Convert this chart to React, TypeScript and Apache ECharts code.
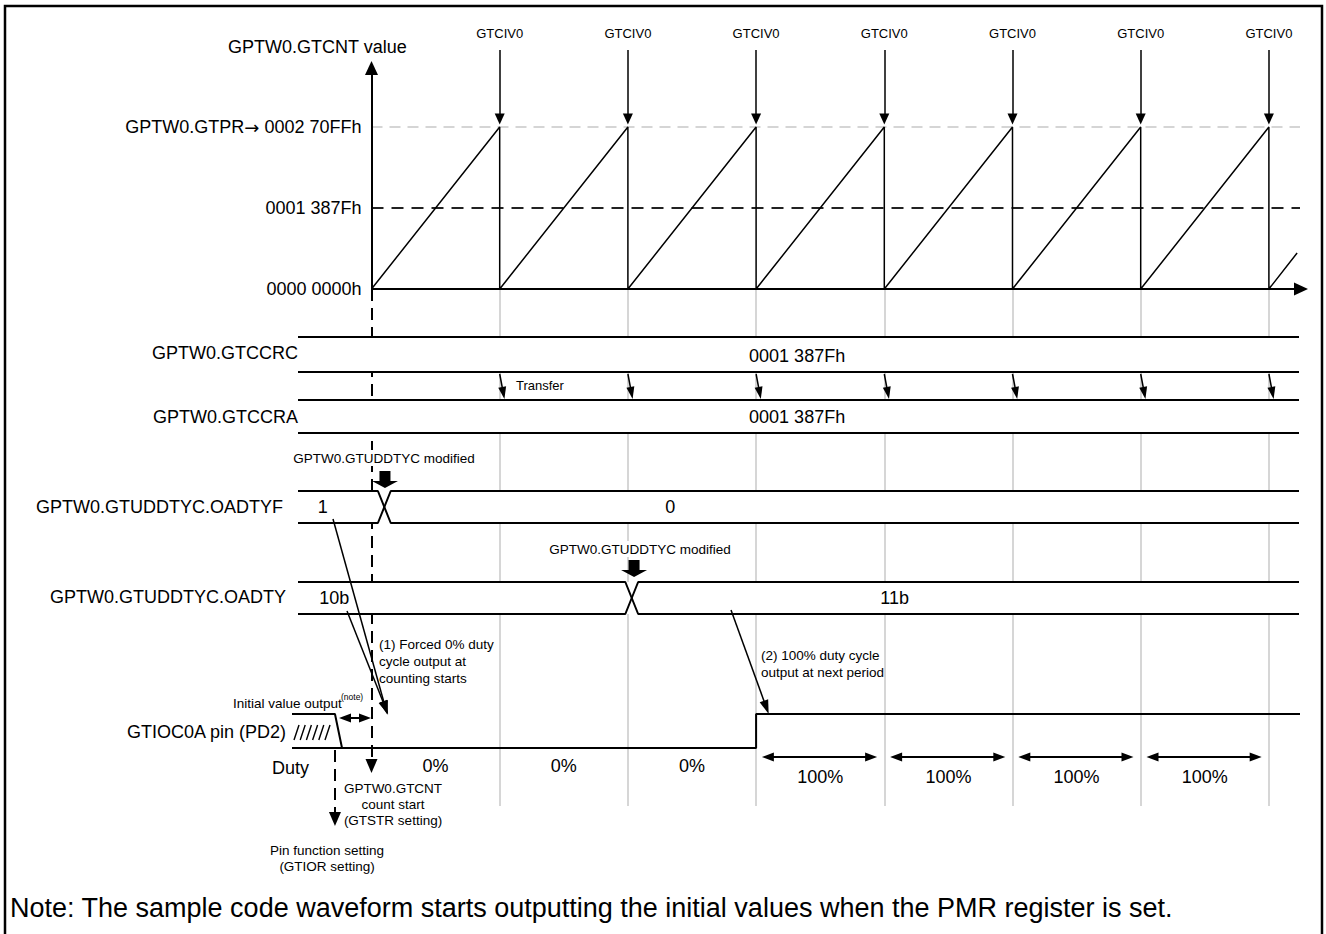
import React, { useEffect, useRef } from "react";
import * as echarts from "echarts";

const W = 1326;
const H = 934;
const FONT = "'Liberation Sans', Arial, Helvetica, sans-serif";
const BLACK = "#000000";
const GRAY = "#c8c8c8";

// ---------------- data ----------------
const GTPR = 0x270ff; // counter period
const CMP = 0x1387f; // compare value
const PERIOD_STARTS = [0, 1, 2, 3, 4, 5, 6];
const OVERFLOW_TIMES = [1, 2, 3, 4, 5, 6, 7];
const CNT_TAIL_T = 7.22;
const CNT_TAIL_V = 0x8ae3;
const Y_TICK_VALUES = [0, CMP, GTPR];
const Y_TICK_LABELS = ["0000 0000h", "0001 387Fh", "GPTW0.GTPR{a|\u2192} 0002 70FFh"];
const EVENT_LABEL = "GTCIV0";

const CCRC_VALUES = ["0001 387Fh"];
const CCRA_VALUES = ["0001 387Fh"];
const CCR_VALUE_T = [3.32];
const OADTYF_VALUES = ["1", "0"];
const OADTYF_VALUE_T = [-0.38, 2.33];
const OADTYF_CHANGE_T = [0.05];
const OADTY_VALUES = ["10b", "11b"];
const OADTY_VALUE_T = [-0.29, 4.08];
const OADTY_CHANGE_T = [1.98];
const MODIFY_T = [0.105, 2.048];
const DUTY_LABELS = ["0%", "0%", "0%", "100%", "100%", "100%", "100%"];
const PIN_HIGH_FROM = 3;
const PIN_INIT_END_T = -0.285;
const TRANSFER_T = [1, 2, 3, 4, 5, 6, 7];

// ---------------- layout ----------------
const T0_PX = 371.5;
const PERIOD_PX = 128.2;
const X_MIN = -T0_PX / PERIOD_PX;
const X_MAX = (W - T0_PX) / PERIOD_PX;
const tAt = (px: number) => (px - T0_PX) / PERIOD_PX;
const BASE_PX = 289;
const TOP_PX = 127;
const Y0_MAX = (GTPR * BASE_PX) / (BASE_PX - TOP_PX);
const cAt = (px: number) => (GTPR * (BASE_PX - px)) / (BASE_PX - TOP_PX);

const ROWS: Record<string, number[]> = {
  ccrc: [337, 372],
  ccra: [400, 433],
  oadtyf: [491, 523],
  oadty: [582, 614],
  pin: [714, 748],
};
const BUS_START = tAt(298);
const BUS_END = tAt(1299);
const X_W = 0.1;
const TRACE_END = tAt(1300);
const PIN_START = tAt(292);
const mid = (r: number[]) => (r[0] + r[1]) / 2;

function busPolylines(row: number[], changes: number[]) {
  const [hi, lo] = row;
  const a: number[][] = [[BUS_START, hi]];
  const b: number[][] = [[BUS_START, lo]];
  let ya = hi;
  let yb = lo;
  for (const c of changes) {
    a.push([c, ya], [c + X_W, yb]);
    b.push([c, yb], [c + X_W, ya]);
    const tmp = ya;
    ya = yb;
    yb = tmp;
  }
  a.push([BUS_END, ya]);
  b.push([BUS_END, yb]);
  return [a, b];
}

const poly = (data: number[][], xi: number, yi: number, width = 2, z = 3) => ({
  type: "line",
  xAxisIndex: xi,
  yAxisIndex: yi,
  data,
  symbol: "none",
  showSymbol: false,
  clip: false,
  silent: true,
  lineStyle: { color: BLACK, width },
  z,
});

const carrier = (xi: number, yi: number, extra: any) => ({
  type: "line",
  xAxisIndex: xi,
  yAxisIndex: yi,
  data: [],
  silent: true,
  ...extra,
});

const seg = (a: number[], b: number[], lineStyle?: any) => [
  lineStyle ? { coord: a, lineStyle } : { coord: a },
  { coord: b },
];

const T = (
  text: string,
  x: number,
  y: number,
  size: number,
  align = "left",
  vAlign = "middle",
  extra: any = {}
) => ({
  type: "text",
  x,
  y,
  silent: true,
  z: 100,
  style: { text, fontSize: size, fontFamily: FONT, fill: BLACK, align, verticalAlign: vAlign, ...extra },
});

function buildOption() {
  // counter sawtooth
  const cnt: number[][] = [];
  PERIOD_STARTS.forEach((p) => cnt.push([p, 0], [p + 1, GTPR]));
  cnt.push([OVERFLOW_TIMES[OVERFLOW_TIMES.length - 1], 0], [CNT_TAIL_T, CNT_TAIL_V]);

  const busRows = [
    { row: ROWS.ccrc, changes: [] as number[] },
    { row: ROWS.ccra, changes: [] as number[] },
    { row: ROWS.oadtyf, changes: OADTYF_CHANGE_T },
    { row: ROWS.oadty, changes: OADTY_CHANGE_T },
  ];
  const busSeries: any[] = [];
  busRows.forEach((b) => busPolylines(b.row, b.changes).forEach((pl) => busSeries.push(poly(pl, 1, 1, 2, 4))));

  const [pinHi, pinLo] = ROWS.pin;
  const pinA = [
    [PIN_START, pinHi],
    [PIN_INIT_END_T, pinHi],
    [PIN_INIT_END_T + 0.055, pinLo],
  ];
  const pinB = [
    [PIN_START, pinLo],
    [PIN_HIGH_FROM, pinLo],
    [PIN_HIGH_FROM, pinHi],
    [TRACE_END, pinHi],
  ];

  const valueLabels: any[] = [];
  CCRC_VALUES.forEach((v, i) => valueLabels.push({ name: v, value: [CCR_VALUE_T[i], mid(ROWS.ccrc) + 1] }));
  CCRA_VALUES.forEach((v, i) => valueLabels.push({ name: v, value: [CCR_VALUE_T[i], mid(ROWS.ccra)] }));
  OADTYF_VALUES.forEach((v, i) => valueLabels.push({ name: v, value: [OADTYF_VALUE_T[i], mid(ROWS.oadtyf)] }));
  OADTY_VALUES.forEach((v, i) => valueLabels.push({ name: v, value: [OADTY_VALUE_T[i], mid(ROWS.oadty)] }));
  DUTY_LABELS.forEach((v, k) =>
    valueLabels.push({ name: v, value: [PERIOD_STARTS[k] + 0.5, v === "100%" ? 777 : 766] })
  );

  const dutyArrows = DUTY_LABELS.map((v, k) => ({ v, k }))
    .filter((d) => d.v === "100%")
    .map((d) => seg([PERIOD_STARTS[d.k] + 0.092, 757], [PERIOD_STARTS[d.k] + 0.897, 757]));

  const hatch = [0, 1, 2, 3, 4, 5].map((i) => ({
    type: "line",
    silent: true,
    shape: { x1: 294 + 6.2 * i, y1: 740, x2: 299 + 6.2 * i, y2: 725 },
    style: { stroke: BLACK, lineWidth: 1.4 },
  }));

  const axisX = { type: "value", min: X_MIN, max: X_MAX, show: false, splitLine: { show: false } };
  const whiteBg = { backgroundColor: "#ffffff", padding: [1, 0] };

  return {
    animation: false,
    backgroundColor: "#ffffff",
    grid: [
      { left: 0, right: 0, top: 0, height: BASE_PX },
      { left: 0, right: 0, top: 0, bottom: 0 },
    ],
    xAxis: [
      { ...axisX, gridIndex: 0, axisLine: { onZero: false } },
      { ...axisX, gridIndex: 1, axisLine: { onZero: false } },
    ],
    yAxis: [
      {
        type: "value",
        gridIndex: 0,
        min: 0,
        max: Y0_MAX,
        interval: 80000,
        position: "left",
        offset: -T0_PX,
        axisLine: { show: false, onZero: false },
        axisTick: { show: false },
        splitLine: { show: false },
        axisLabel: {
          customValues: Y_TICK_VALUES,
          margin: 10,
          color: BLACK,
          fontSize: 18,
          fontFamily: FONT,
          rich: { a: { fontFamily: "'DejaVu Sans', sans-serif", fontSize: 18, color: BLACK } },
          formatter: (v: number) => {
            const i = Y_TICK_VALUES.findIndex((t) => Math.abs(t - v) < 10);
            return i >= 0 ? Y_TICK_LABELS[i] : "";
          },
        },
      },
      { type: "value", gridIndex: 1, min: 0, max: H, inverse: true, show: false, splitLine: { show: false } },
    ],
    graphic: [
      {
        type: "rect",
        silent: true,
        shape: { x: 5, y: 6, width: 1317, height: 1000 },
        style: { fill: "none", stroke: BLACK, lineWidth: 2.5 },
      },
      T("GPTW0.GTCNT value", 228, 47, 18),
      T("GPTW0.GTCCRC", 298, 353, 18, "right"),
      T("GPTW0.GTCCRA", 298, 417, 18, "right"),
      T("GPTW0.GTUDDTYC.OADTYF", 283, 507, 18, "right"),
      T("GPTW0.GTUDDTYC.OADTY", 286, 597, 18, "right"),
      T("GTIOC0A pin (PD2)", 286, 732, 18, "right"),
      T("Duty", 272, 768, 18),
      T("Transfer", 516, 385, 13),
      T("GPTW0.GTUDDTYC modified", 384, 458, 13.5, "center", "middle", whiteBg),
      T("GPTW0.GTUDDTYC modified", 640, 549, 13.5, "center", "middle", whiteBg),
      T("(1) Forced 0% duty\ncycle output at\ncounting starts", 379, 636, 13.5, "left", "top", { lineHeight: 17 }),
      T("(2) 100% duty cycle\noutput at next period", 761, 647, 13.5, "left", "top", { lineHeight: 17 }),
      T("Initial value output", 233, 703, 13.5),
      T("(note)", 341, 697, 8.5),
      T("GPTW0.GTCNT\ncount start\n(GTSTR setting)", 393, 780, 13.5, "center", "top", { lineHeight: 16 }),
      T("Pin function setting\n(GTIOR setting)", 327, 843, 13.5, "center", "top", { lineHeight: 15.5 }),
      T(
        "Note: The sample code waveform starts outputting the initial values when the PMR register is set.",
        10,
        908,
        27
      ),
      ...hatch,
    ],
    series: [
      // ---- counter grid ----
      poly(cnt, 0, 0, 1.5, 4),
      carrier(0, 0, {
        markLine: {
          silent: true,
          z: 2,
          symbol: ["none", "none"],
          label: { show: false },
          data: [
            seg([0, GTPR], [TRACE_END, GTPR], { color: GRAY, type: [11, 7], width: 1.5 }),
            seg([0, CMP], [TRACE_END, CMP], { color: "#222222", type: [12, 8], width: 2 }),
          ],
        },
      }),
      carrier(0, 0, {
        markLine: {
          silent: true,
          z: 5,
          symbol: ["none", "triangle"],
          symbolSize: [13, 14],
          label: { show: false },
          lineStyle: { color: BLACK, width: 2, type: "solid" },
          data: [seg([0, 0], [0, cAt(68)]), seg([0, 0], [tAt(1301), 0])],
        },
      }),
      carrier(0, 0, {
        markLine: {
          silent: true,
          z: 5,
          symbol: ["none", "triangle"],
          symbolSize: [10, 11],
          lineStyle: { color: BLACK, width: 1.5, type: "solid" },
          label: {
            show: true,
            position: "start",
            formatter: EVENT_LABEL,
            fontSize: 13,
            fontFamily: FONT,
            color: BLACK,
            distance: 10,
          },
          data: OVERFLOW_TIMES.map((k) => seg([k, cAt(50)], [k, cAt(119)])),
        },
      }),
      // ---- signal grid ----
      carrier(1, 1, {
        markLine: {
          silent: true,
          z: 1,
          symbol: ["none", "none"],
          label: { show: false },
          lineStyle: { color: GRAY, width: 1.5, type: "solid" },
          data: OVERFLOW_TIMES.map((k) => seg([k, BASE_PX], [k, 806])),
        },
      }),
      carrier(1, 1, {
        markLine: {
          silent: true,
          z: 1,
          symbol: ["none", "triangle"],
          symbolSize: [12, 14],
          label: { show: false },
          lineStyle: { color: BLACK, width: 2, type: [12, 7] },
          data: [seg([0, BASE_PX], [0, 766]), seg([PIN_INIT_END_T, 750], [PIN_INIT_END_T, 819])],
        },
      }),
      carrier(1, 1, {
        markArea: {
          silent: true,
          z: 2,
          itemStyle: { color: "#ffffff", borderWidth: 0 },
          label: { show: false },
          data: busRows.map((b) => [{ coord: [BUS_START, b.row[0]] }, { coord: [BUS_END, b.row[1]] }]),
        },
      }),
      ...busSeries,
      poly(pinA, 1, 1, 2, 4),
      poly(pinB, 1, 1, 2, 4),
      carrier(1, 1, {
        markLine: {
          silent: true,
          z: 5,
          symbol: ["none", "triangle"],
          symbolSize: [8, 12],
          label: { show: false },
          lineStyle: { color: BLACK, width: 1.5, type: "solid" },
          data: TRANSFER_T.map((k) => seg([k, 374], [k + 0.028, 393])),
        },
      }),
      carrier(1, 1, {
        markLine: {
          silent: true,
          z: 5,
          symbol: ["none", "triangle"],
          symbolSize: [9, 14],
          label: { show: false },
          lineStyle: { color: BLACK, width: 1.5, type: "solid" },
          data: [
            seg([tAt(333), 519], [tAt(385.5), 708]),
            seg([tAt(347), 611], [tAt(385.5), 708]),
            seg([tAt(731), 610], [tAt(766.3), 707.4]),
          ],
        },
      }),
      carrier(1, 1, {
        markLine: {
          silent: true,
          z: 5,
          symbol: ["triangle", "triangle"],
          symbolSize: [9, 12],
          label: { show: false },
          lineStyle: { color: BLACK, width: 2, type: "solid" },
          data: [...dutyArrows, seg([tAt(345), 718], [tAt(365), 718])],
        },
      }),
      {
        type: "scatter",
        xAxisIndex: 1,
        yAxisIndex: 1,
        silent: true,
        z: 6,
        symbolSize: 0.1,
        itemStyle: { color: "rgba(255,255,255,0)", opacity: 1 },
        label: {
          show: true,
          position: "inside",
          formatter: "{b}",
          color: BLACK,
          opacity: 1,
          textBorderWidth: 0,
          fontSize: 18,
          fontFamily: FONT,
        },
        data: valueLabels,
      },
      {
        type: "scatter",
        xAxisIndex: 1,
        yAxisIndex: 1,
        silent: true,
        z: 6,
        symbol: "path://M7.5,0L18.5,0L18.5,10L26,10L13,17L0,10L7.5,10Z",
        symbolSize: [26, 17],
        itemStyle: { color: BLACK, opacity: 1 },
        data: [
          [MODIFY_T[0], 479.5],
          [MODIFY_T[1], 568.5],
        ],
      },
    ],
  };
}

export default function App() {
  const ref = useRef<HTMLDivElement>(null);
  useEffect(() => {
    if (!ref.current) return;
    const chart = echarts.init(ref.current, null, { renderer: "svg" });
    chart.setOption(buildOption() as any);
    return () => chart.dispose();
  }, []);
  return (
    <div
      ref={ref}
      style={{ position: "fixed", left: 0, top: 0, width: W, height: H, background: "#ffffff" }}
    />
  );
}
